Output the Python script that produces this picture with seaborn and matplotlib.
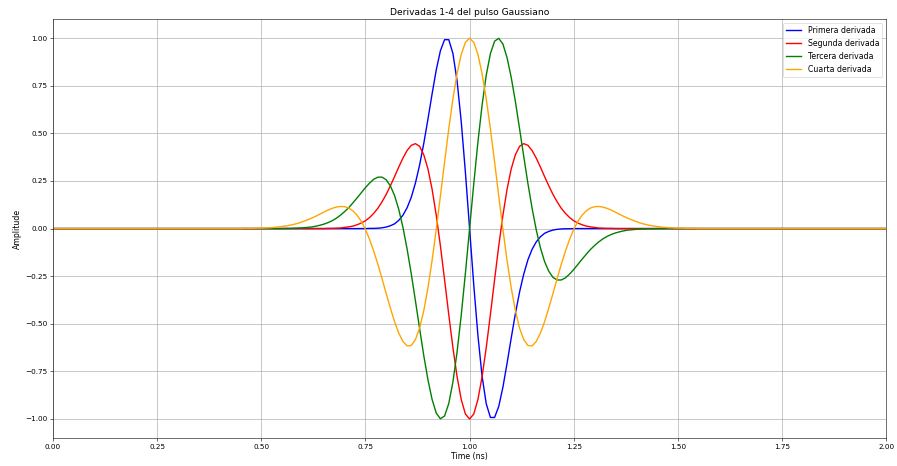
import numpy as np
import pandas as pd
import matplotlib
matplotlib.use("Agg")
import matplotlib.pyplot as plt
import seaborn as sns

# Time samples (ns): 0.0, then 0.40 ... 1.60 every 0.01, then 2.0
time_ns = np.concatenate([[0.0], np.round(np.arange(0.40, 1.6001, 0.01), 2), [2.0]])

series_names = ["Primera derivada", "Segunda derivada", "Tercera derivada", "Cuarta derivada"]
series_colors = ["blue", "red", "green", "orange"]

primera = [
    0,
    0, 0, 0, 0, 0, 0, 0, 0, 0, 0, 0, 0,
    0, 0, 0, 0, 0, 0, 0, 0, 0, 0, 0, 0,
    0, 0, 0, 0, 0, 0, 0, 0, 0, 0, 0, 0,
    0.001, 0.001, 0.002, 0.004, 0.008, 0.015, 0.025, 0.043, 0.070, 0.109, 0.164, 0.239,
    0.333, 0.446, 0.574, 0.707, 0.833, 0.934, 0.992, 0.992, 0.920, 0.775, 0.561, 0.295,
    0.0,
    -0.295, -0.561, -0.775, -0.920, -0.992, -0.992, -0.934, -0.833, -0.707, -0.574, -0.446, -0.333,
    -0.239, -0.164, -0.109, -0.070, -0.043, -0.025, -0.015, -0.008, -0.004, -0.002, -0.001, -0.001,
    0, 0, 0, 0, 0, 0, 0, 0, 0, 0, 0, 0,
    0, 0, 0, 0, 0, 0, 0, 0, 0, 0, 0, 0,
    0, 0, 0, 0, 0, 0, 0, 0, 0, 0, 0, 0,
    0,
]

segunda = [
    0,
    0, 0, 0, 0, 0, 0, 0, 0, 0, 0, 0, 0,
    0, 0, 0, 0, 0, 0, 0, 0, 0, 0, 0, 0,
    0, 0,
    0.001, 0.001, 0.002, 0.003, 0.006, 0.009, 0.013, 0.020, 0.029, 0.041, 0.058, 0.080,
    0.107, 0.141, 0.180, 0.225, 0.273, 0.323, 0.370, 0.410, 0.437, 0.446, 0.432, 0.388,
    0.314, 0.207, 0.070, -0.091, -0.269, -0.451, -0.625, -0.778, -0.898, -0.974,
    -1.000,
    -0.974, -0.898, -0.778, -0.625, -0.451, -0.269, -0.091, 0.070, 0.207, 0.314,
    0.388, 0.432, 0.446, 0.437, 0.410, 0.370, 0.323, 0.273, 0.225, 0.180, 0.141, 0.107,
    0.080, 0.058, 0.041, 0.029, 0.020, 0.013, 0.009, 0.006, 0.003, 0.002, 0.001, 0.001,
    0, 0,
    0, 0, 0, 0, 0, 0, 0, 0, 0, 0, 0, 0,
    0, 0, 0, 0, 0, 0, 0, 0, 0, 0, 0, 0,
    0,
]

tercera = [
    0,
    0, 0, 0, 0, 0, 0, 0, 0, 0, 0, 0, 0,
    0, 0, 0, 0,
    0.001, 0.001, 0.002, 0.003, 0.004, 0.006, 0.008, 0.012, 0.017, 0.023, 0.031, 0.041,
    0.054, 0.070, 0.089, 0.110, 0.135, 0.161, 0.188, 0.215, 0.239, 0.259, 0.270, 0.270,
    0.256, 0.224, 0.173, 0.101, 0.007, -0.107, -0.237, -0.379, -0.524, -0.666,
    -0.793, -0.897, -0.969, -0.999, -0.984, -0.919, -0.806, -0.648, -0.454, -0.234,
    0.0,
    0.234, 0.454, 0.648, 0.806, 0.919, 0.984, 0.999, 0.969, 0.897, 0.793,
    0.666, 0.524, 0.379, 0.237, 0.107, -0.007, -0.101, -0.173, -0.224, -0.256,
    -0.270, -0.270, -0.259, -0.239, -0.215, -0.188, -0.161, -0.135, -0.110, -0.089, -0.070, -0.054,
    -0.041, -0.031, -0.023, -0.017, -0.012, -0.008, -0.006, -0.004, -0.003, -0.002, -0.001, -0.001,
    0, 0, 0, 0,
    0, 0, 0, 0, 0, 0, 0, 0, 0, 0, 0, 0,
    0,
]

cuarta = [
    0,
    0, 0, 0, 0, 0, 0,
    0.001, 0.001, 0.001, 0.002, 0.002, 0.003, 0.004, 0.006, 0.008, 0.011, 0.014, 0.018,
    0.023, 0.029, 0.037, 0.045, 0.054, 0.064, 0.075, 0.086, 0.097, 0.106, 0.113, 0.116,
    0.115, 0.108, 0.093, 0.070, 0.038, -0.004, -0.057, -0.119, -0.188, -0.264,
    -0.342, -0.418, -0.489, -0.549, -0.593, -0.616, -0.614, -0.583, -0.523, -0.432,
    -0.312, -0.168, -0.004, 0.171, 0.350, 0.523, 0.681, 0.814, 0.915, 0.978,
    1.000,
    0.978, 0.915, 0.814, 0.681, 0.523, 0.350, 0.171, -0.004, -0.168, -0.312,
    -0.432, -0.523, -0.583, -0.614, -0.616, -0.593, -0.549, -0.489, -0.418, -0.342,
    -0.264, -0.188, -0.119, -0.057, -0.004, 0.038, 0.070, 0.093, 0.108, 0.115,
    0.116, 0.113, 0.106, 0.097, 0.086, 0.075, 0.064, 0.054, 0.045, 0.037, 0.029, 0.023,
    0.018, 0.014, 0.011, 0.008, 0.006, 0.004, 0.003, 0.002, 0.002, 0.001, 0.001, 0.001,
    0, 0, 0, 0, 0, 0,
    0,
]

x_ticks = [0.00, 0.25, 0.50, 0.75, 1.00, 1.25, 1.50, 1.75, 2.00]
y_ticks = [-1.00, -0.75, -0.50, -0.25, 0.00, 0.25, 0.50, 0.75, 1.00]

fig, ax = plt.subplots(figsize=(17.94, 9.32), dpi=50)
for name, color, vals in zip(series_names, series_colors,
                             [primera, segunda, tercera, cuarta]):
    df = pd.DataFrame({"t": time_ns, "a": vals})
    sns.lineplot(data=df, x="t", y="a", color=color, label=name,
                 linewidth=2.0, ax=ax, sort=False)

ax.set_xlim(0, 2)
ax.set_ylim(-1.1, 1.1)
ax.set_xticks(x_ticks)
ax.set_yticks(y_ticks)
ax.set_xticklabels([f"{v:.2f}" for v in x_ticks])
ax.set_yticklabels([f"{v:.2f}".replace("-", "\u2212") for v in y_ticks])
ax.tick_params(labelsize=10.5, length=4.5)
ax.grid(True, color="#b0b0b0", linewidth=1.0)
ax.set_axisbelow(True)
ax.set_title("Derivadas 1-4 del pulso Gaussiano", fontsize=13.2)
ax.set_xlabel("Time (ns)", fontsize=11.2)
ax.set_ylabel("Amplitude", fontsize=11.2)
ax.legend(loc="upper right", fontsize=11.2)
fig.subplots_adjust(left=0.059, right=0.988, top=0.959, bottom=0.060)
fig.savefig("out.png", dpi=50)
